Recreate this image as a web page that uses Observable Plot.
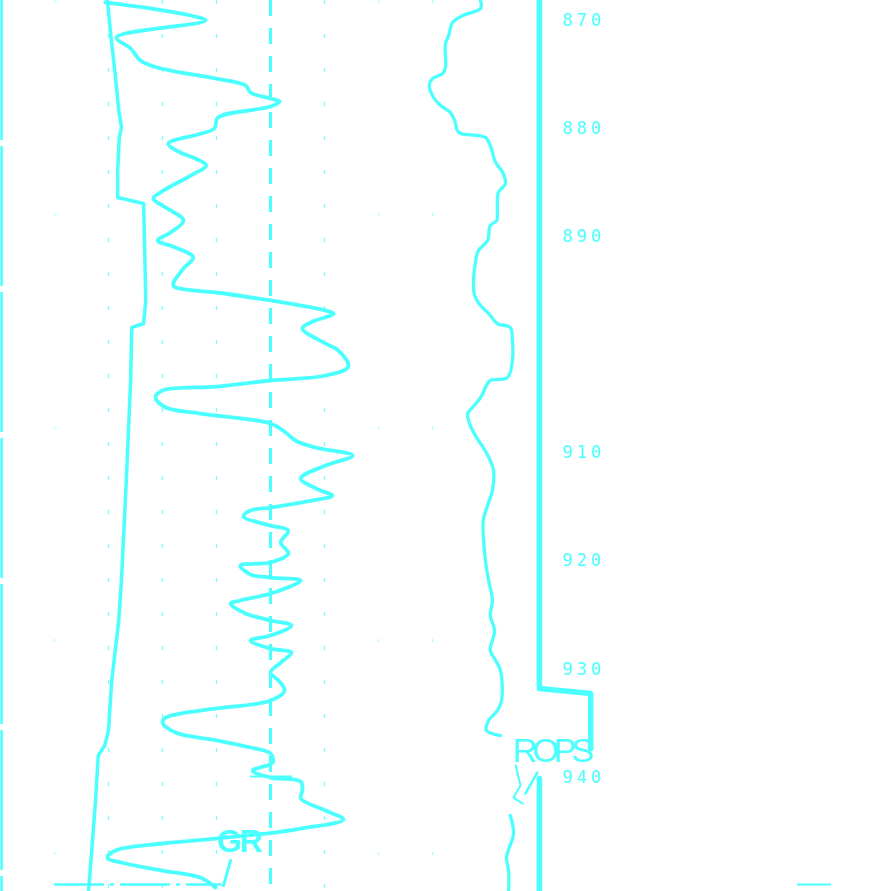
<!DOCTYPE html>
<html>
<head>
<meta charset="utf-8">
<script src="https://cdn.jsdelivr.net/npm/d3@7"></script>
<script src="https://cdn.jsdelivr.net/npm/@observablehq/plot@0.6"></script>
<style>
  body { margin: 0; background: #fff; }
  #chart svg { display: block; }
  .depth text { letter-spacing: 4px; }
  .gr-label text { letter-spacing: -2px; }
  .rop-label text { letter-spacing: -5px; }
</style>
</head>
<body>
<div id="chart"></div>
<script>
// depth in ft, curve values on the shared track scale (10 units per grid division)
const grDepth = [868.33, 868.89, 869.54, 870.0, 871.57, 872.59, 873.70, 874.16, 874.63, 875.37,
  876.01, 876.66, 877.22, 877.49, 877.96, 879.0, 879.99, 881.38, 882.21, 882.77,
  883.41, 884.34, 885.91, 886.47, 887.30, 888.50, 889.61, 890.35, 891.0, 891.92,
  892.94, 894.51, 894.98, 895.16, 895.90, 896.37, 896.83, 897.10, 897.94, 898.49,
  899.88, 900.53, 902.01, 902.84, 903.30, 903.86, 904.23, 904.88, 905.80, 906.36,
  907.28, 908.11, 908.85, 909.50, 910.24, 911.17, 912.37, 913.48, 913.94, 914.59,
  915.05, 915.33, 915.88, 916.72, 917.18, 918.29, 919.31, 920.14, 920.42, 921.25,
  921.53, 921.80, 923.01, 923.65, 923.93, 924.85, 925.50, 925.96, 926.89, 927.36,
  928.10, 928.47, 929.39, 930.32, 931.06, 931.98, 932.90, 933.64, 934.11, 934.48,
  934.94, 935.87, 936.60, 937.25, 937.81, 938.64, 939.38, 940.03, 940.40, 941.23,
  941.97, 943.08, 943.91, 944.75, 945.21, 945.67, 946.13, 946.78, 947.43, 947.98,
  948.63, 949.28, 950.20];
const grValue = [19.4, 27.8, 35.2, 38.0, 21.5, 24.1, 25.9, 27.8, 31.5, 40,
  45.4, 46.3, 50, 51.7, 50, 40.2, 39.6, 31.1, 33.3, 36.1,
  38.1, 35.2, 29.6, 28.3, 30.6, 33.9, 31.5, 29.1, 32.4, 35.7,
  33.9, 32.0, 36.1, 40, 50, 55.6, 60.2, 61.7, 57.4, 55.9,
  60.2, 62.6, 64.4, 60.2, 50, 40, 30, 28.7, 30.6, 37.0,
  50, 52.8, 54.6, 58.3, 65.2, 60.2, 55.6, 59.3, 61.5, 55.6,
  50, 46.3, 45.0, 50, 53.3, 51.9, 53.3, 50, 44.4, 46.3,
  50, 55.6, 50, 44.4, 42.6, 45.4, 50, 53.9, 50, 46.3,
  50, 53.9, 51.9, 50, 51.5, 52.6, 50, 40, 33.3, 30.6,
  30, 32.4, 40, 46.3, 50, 50.4, 46.7, 50, 55.6, 55.9,
  55.6, 60.2, 63.5, 55.6, 49.1, 40, 30, 21.3, 19.8, 23.1,
  30, 37.0, 39.8];

const calDepth = [868.15, 871.20, 875.27, 878.33, 879.90, 880.82, 883.88, 886.37, 886.65, 886.93,
  891.28, 895.90, 898.03, 898.40, 903.30, 907.93, 912.55, 921.80, 925.50, 931.06,
  935.68, 937.07, 937.99, 942.16, 946.78, 950.57];
const calValue = [19.8, 20.4, 21.3, 21.9, 22.4, 22.0, 21.7, 21.7, 24.1, 26.5,
  26.7, 26.9, 26.5, 24.3, 24.1, 23.7, 23.3, 22.4, 21.9, 20.6,
  20, 19.3, 18.1, 17.6, 16.9, 16.3];

const resDepth = [868.15, 868.89, 869.54, 870.19, 871.39, 872.13, 874.35, 874.90, 875.37, 876.01,
  877.12, 877.86, 878.51, 879.25, 880.18, 880.45, 880.82, 881.56, 883.14, 884.06,
  885.08, 885.91, 887.58, 888.50, 888.96, 890.35, 891.28, 892.20, 894.05, 895.44,
  896.37, 897.10, 898.03, 898.40, 899.60, 901.45, 903.02, 903.30, 903.76, 904.88,
  905.80, 906.36, 907.47, 908.85, 909.50, 910.70, 911.63, 913.48, 914.87, 916.25,
  919.96, 921.80, 923.65, 925.04, 926.43, 928.28, 929.20, 930.13, 932.90, 933.83,
  934.75, 935.68, 936.14, 940.0, 943.54, 945.21, 947.43, 948.63, 950.57];
const resValue = [88.9, 88.9, 85.6, 83.7, 83.0, 82.4, 82.4, 81.9, 80, 79.4,
  80.2, 81.5, 83.3, 84.1, 84.6, 85.2, 89.8, 90.7, 91.7, 93.0,
  93.5, 92.2, 92.0, 91.9, 90.7, 90.2, 88.5, 88.0, 87.6, 87.8,
  88.9, 90.4, 92.0, 94.4, 94.8, 94.8, 93.9, 90.7, 90, 88.9,
  87.4, 86.5, 87.0, 88.5, 89.4, 90.7, 91.3, 91.1, 90.2, 89.4,
  89.8, 90.4, 91.1, 90.7, 91.5, 90.7, 91.7, 92.6, 92.8, 92.0,
  90.4, 90, 92.6, null, 94.4, 95.0, 93.7, 94.1, 94.1];

const ropDepth = [868.15, 931.79, 932.26, 937.35, 938.5, 940.12, 950.57];
const ropValue = [99.8, 99.8, 109.3, 109.3, null, 99.8, 99.8];

const depthTicks = [870, 880, 890, 910, 920, 930, 940];
const gridMajor = [20, 30, 40, 60];
const gridMinor = [10, 70, 80];
const gridCenter = [50];

const cyan = "#4cffff";
const zip = (ds, vs) => ds.map((d, i) => ({depth: d, value: vs[i]}));

const chart = Plot.plot({
  width: 891,
  height: 891,
  margin: 0,
  x: {domain: [0, 165], axis: null},
  y: {domain: [868.15, 950.57], range: [0, 891], axis: null},
  style: {background: "#fff"},
  marks: [
    // track border + grid
    Plot.ruleX([0.2], {stroke: cyan, strokeWidth: 2.5, strokeDasharray: "140,6"}),
    Plot.ruleX(gridMajor, {stroke: cyan, strokeWidth: 1.3, strokeDasharray: "4,30", strokeOpacity: 0.75}),
    Plot.ruleX(gridMinor, {stroke: cyan, strokeWidth: 1.2, strokeDasharray: "3,210", strokeOpacity: 0.5}),
    Plot.ruleX(gridCenter, {stroke: cyan, strokeWidth: 3, strokeDasharray: "16,12"}),
    // 950 ft line pieces
    Plot.ruleY([949.93], {x1: 10, x2: 41, stroke: cyan, strokeWidth: 2.5, strokeDasharray: "50,6,4,6"}),
    Plot.ruleY([949.93], {x1: 147.6, x2: 153.9, stroke: cyan, strokeWidth: 2}),
    Plot.ruleY([939.94], {x1: 46.3, x2: 54.1, stroke: cyan, strokeWidth: 2}),
    // curves
    Plot.line(zip(calDepth, calValue), {x: "value", y: "depth", stroke: cyan, strokeWidth: 3.5, curve: "linear"}),
    Plot.line(zip(grDepth, grValue), {x: "value", y: "depth", stroke: cyan, strokeWidth: 3.8, curve: "catmull-rom"}),
    Plot.line(zip(resDepth, resValue), {x: "value", y: "depth", stroke: cyan, strokeWidth: 3.3, curve: "catmull-rom"}),
    Plot.line(zip(ropDepth, ropValue), {x: "value", y: "depth", stroke: cyan, strokeWidth: 5.5, curve: "linear"}),
    // hand marks
    Plot.line(zip([947.70, 950.02], [42.6, 41.3]), {x: "value", y: "depth", stroke: cyan, strokeWidth: 3}),
    Plot.line(zip([938.92, 940.77, 941.88, 942.44], [95.4, 96.3, 95.0, 96.7]), {x: "value", y: "depth", stroke: cyan, strokeWidth: 2}),
    Plot.line(zip([939.57, 941.51], [99.4, 97.2]), {x: "value", y: "depth", stroke: cyan, strokeWidth: 2.5}),
    // labels
    Plot.text(depthTicks, {x: 108, y: d => d, text: d => String(d), fill: cyan, fontSize: 17,
      fontFamily: "DejaVu Sans Mono", textAnchor: "middle", lineAnchor: "middle", className: "depth"}),
    Plot.text(["GR"], {x: 44.1, y: 945.95, fill: cyan, fontSize: 32, fontWeight: "bold",
      fontFamily: "Liberation Sans", textAnchor: "middle", lineAnchor: "middle", className: "gr-label"}),
    Plot.text(["ROPS"], {x: 101.9, y: 937.6, fill: cyan, fontSize: 34,
      fontFamily: "Liberation Sans", textAnchor: "middle", lineAnchor: "middle", className: "rop-label"})
  ]
});

d3.select("#chart").append(() => chart);
</script>
</body>
</html>
